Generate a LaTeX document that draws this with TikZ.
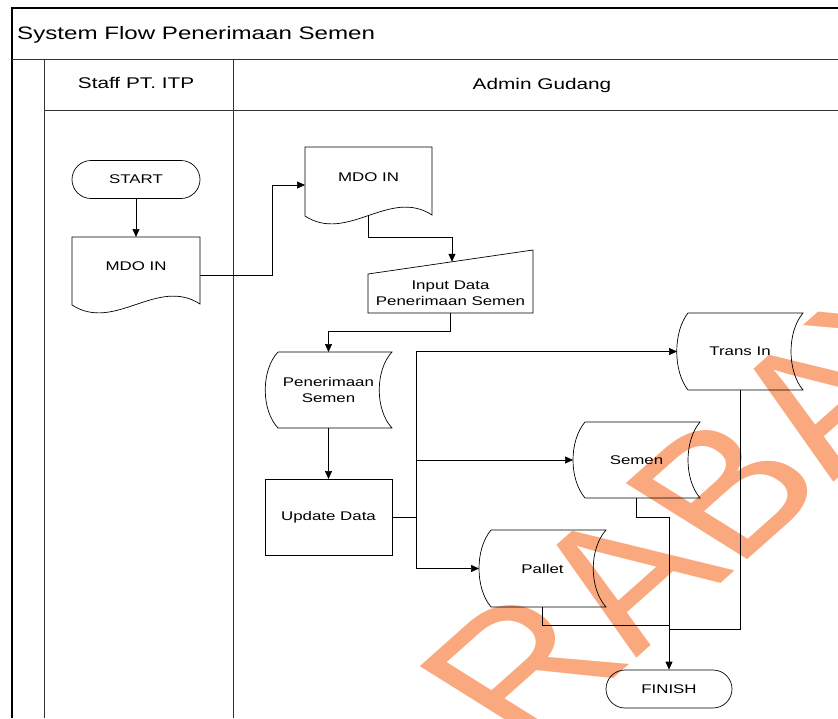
\documentclass[tikz,border=0pt]{standalone}
\usepackage{fontspec}
\setmainfont{Liberation Sans}[FakeStretch=1.34]
\newfontfamily\wmfont{Liberation Sans}
\usetikzlibrary{arrows.meta,shapes.misc,calc}

\definecolor{wmorange}{RGB}{250,168,126}

\begin{document}
\begin{tikzpicture}[x=1pt,y=-1pt,
  frame/.style={draw=black,line width=1.1pt},
  lane/.style={draw=black!80,line width=0.9pt},
  flow/.style={draw=black,line width=0.7pt},
  arr/.style={flow,-{Triangle[length=8pt,width=7pt]}},
  txt/.style={font=\fontsize{12.6}{16}\selectfont,align=center},
  shapebox/.style={inner sep=0pt,outer sep=0pt,minimum width=#1},
  term/.style={rounded rectangle,draw,line width=0.7pt,inner sep=0pt,
    minimum height=38pt,txt},
  head/.style={anchor=base,inner sep=0pt,font=\fontsize{15.5}{18}\selectfont},
]
\useasboundingbox (0,0) rectangle (838,718);

% watermark behind the chart
\begin{scope}
  \clip (0,0) rectangle (838,718);
  \begin{scope}[xscale=1.34]
    \node[anchor=base west,inner sep=0pt,rotate=50,transform shape,
      text=wmorange,font=\wmfont\fontsize{172}{176}\selectfont]
      (wm) at (394.9,753.9) {RABAYA};
  \end{scope}
\end{scope}

% frame and swimlanes
\draw[frame] (838,8) -- (12,8) -- (12,718);
\draw[lane] (12,59) -- (838,59);
\draw[lane] (44,110) -- (838,110);
\draw[lane] (44,59) -- (44,718);
\draw[lane] (233,59) -- (233,718);

\node[anchor=base west,inner sep=0pt,font=\fontsize{18}{22}\selectfont]
  (title) at (17,39) {System Flow Penerimaan Semen};
\node[head] (hstaff) at (136,88) {Staff PT. ITP};
\node[head] (hadmin) at (542,89) {Admin Gudang};

% Staff PT. ITP lane
\node[term,minimum width=128pt] (start) at (136,179.5) {START};

\node[shapebox=128pt,minimum height=76pt,
  label={[txt,yshift=9pt]center:MDO IN}] (doc1) at (136,275) {};
\draw[flow] (72,237) -- (200,237) -- (200,304)
  .. controls (157.3,276.3) and (114.7,332.7) .. (72,305) -- cycle;

% Admin Gudang lane
\node[shapebox=127pt,minimum height=76pt,
  label={[txt,yshift=8pt]center:MDO IN}] (doc2) at (368.5,185) {};
\draw[flow] (305,147) -- (432,147) -- (432,215)
  .. controls (389.7,187.3) and (347.3,243.7) .. (305,216) -- cycle;
\coordinate (doc2out) at (368,215.5);

\node[shapebox=165pt,minimum height=39pt,txt] (inp) at (450.5,293.5)
  {Input Data\\Penerimaan Semen};
\draw[flow] (368,274) -- (533,250) -- (533,313) -- (368,313) -- cycle;
\coordinate (inpin) at (452,261.8);

\node[shapebox=127pt,minimum height=76pt,txt] (pen) at (328.5,390)
  {Penerimaan\\Semen};
\draw[flow] (278,352) -- (392,352) .. controls (375,370) and (375,410) .. (392,428)
  -- (278,428) .. controls (261,410) and (261,370) .. (278,352) -- cycle;

\node[shapebox=127pt,minimum height=76pt,draw,line width=0.7pt,txt]
  (upd) at (328.5,517) {Update Data};

\node[shapebox=126pt,minimum height=77pt,txt] (trans) at (740,351.5) {Trans In};
\draw[flow] (688,313) -- (803,313) .. controls (787,332) and (787,371) .. (803,390)
  -- (688,390) .. controls (673,371) and (673,332) .. (688,313) -- cycle;

\node[shapebox=127pt,minimum height=76pt,txt] (semen) at (636.5,460) {Semen};
\draw[flow] (585,422) -- (700,422) .. controls (684,441) and (684,479) .. (700,498)
  -- (585,498) .. controls (569,479) and (569,441) .. (585,422) -- cycle;

\node[shapebox=127pt,minimum height=77pt,txt] (pallet) at (542.5,568.5) {Pallet};
\draw[flow] (491,530) -- (606,530) .. controls (589,549) and (589,588) .. (606,607)
  -- (491,607) .. controls (475,588) and (475,549) .. (491,530) -- cycle;

\node[term,minimum width=126pt] (finish) at (669,689) {FINISH};

% connectors
\draw[arr] (start.south) -- (doc1.north);
\draw[arr] (doc1.east) -- ++(72,0) |- (doc2.west);
\draw[arr] (doc2out) -- ++(0,21.5) -| (inpin);
\draw[arr] (inp.south) -- ++(0,18) -| (pen.north);
\draw[arr] (pen.south) -- (upd.north);

\coordinate (bus) at ($(upd.east)+(24,0)$);
\draw[flow] (upd.east) -- (bus);
\draw[arr] (bus) |- (trans.west);
\draw[arr] (bus) |- (semen.west);
\draw[arr] (bus) |- (pallet.west);

\coordinate (join) at ($(finish.north)+(0,-40)$);
\draw[flow] (trans.south) |- (join);
\draw[flow] (semen.south) -- ++(0,19) -| (join);
\draw[flow] (pallet.south) -- ++(0,18) -| (join);
\draw[arr] (join) -- (finish.north);
\end{tikzpicture}
\end{document}
